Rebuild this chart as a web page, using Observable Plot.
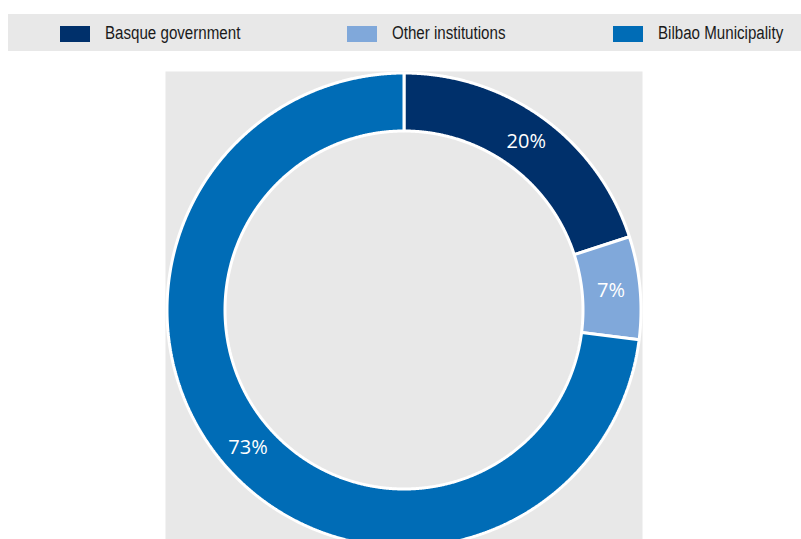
<!DOCTYPE html>
<html>
<head>
<meta charset="utf-8">
<script src="https://cdn.jsdelivr.net/npm/d3@7"></script>
<script src="https://cdn.jsdelivr.net/npm/@observablehq/plot@0.6"></script>
<style>
  html, body { margin: 0; padding: 0; background: #fff; overflow: hidden; width: 801px; height: 539px; }
  #legend { position: absolute; left: 8px; top: 14px; width: 793px; height: 37px; background: #e8e8e8; }
  .sw { position: absolute; top: 12px; width: 30px; height: 16px; }
  .lt { position: absolute; top: 0; height: 37px; line-height: 39px; font-family: "Liberation Sans", Arial, sans-serif; font-size: 18px; color: #1a1a1a; white-space: nowrap; transform: scaleX(0.84); transform-origin: 0 50%; }
  #chart { position: absolute; left: 0; top: 60px; }
</style>
</head>
<body>
<div id="legend"></div>
<div id="chart"></div>
<script>
const categories = ["Basque government", "Other institutions", "Bilbao Municipality"];
const shares = [20, 7, 73];
const labels = ["20%", "7%", "73%"];
const colors = ["#00306b", "#80a8da", "#006cb6"];

// Legend (HTML, above the SVG)
const legendX = [52, 339, 605];
const legend = document.getElementById("legend");
categories.forEach((c, i) => {
  const sw = document.createElement("div");
  sw.className = "sw";
  sw.style.left = legendX[i] + "px";
  sw.style.background = colors[i];
  legend.appendChild(sw);
  const t = document.createElement("div");
  t.className = "lt";
  t.style.left = (legendX[i] + 45) + "px";
  t.textContent = c;
  legend.appendChild(t);
});

const R_OUT = 237, R_IN = 179, R_LBL = 208;
const arcs = d3.pie().sort(null).value(d => d)(shares);

function slicePoints(a) {
  const pts = [];
  const n = Math.max(8, Math.ceil((a.endAngle - a.startAngle) / (Math.PI / 720)));
  for (let k = 0; k <= n; k++) {
    const t = a.startAngle + (a.endAngle - a.startAngle) * k / n;
    pts.push({x: R_OUT * Math.sin(t), y: R_OUT * Math.cos(t)});
  }
  for (let k = n; k >= 0; k--) {
    const t = a.startAngle + (a.endAngle - a.startAngle) * k / n;
    pts.push({x: R_IN * Math.sin(t), y: R_IN * Math.cos(t)});
  }
  return pts;
}

const labelData = arcs.map((a, i) => {
  const m = (a.startAngle + a.endAngle) / 2;
  return {x: R_LBL * Math.sin(m), y: R_LBL * Math.cos(m), text: labels[i]};
});

const marks = [Plot.frame({fill: "#e8e8e8", stroke: "none"})];
arcs.forEach((a, i) => {
  marks.push(Plot.line(slicePoints(a), {
    x: "x", y: "y", curve: "linear-closed",
    fill: colors[i], stroke: "white", strokeWidth: 3, strokeLinejoin: "miter"
  }));
});
marks.push(Plot.text(labelData, {
  x: "x", y: "y", text: "text", fill: "white",
  fontSize: 20, fontFamily: "Open Sans, Noto Sans, sans-serif"
}));

const chart = Plot.plot({
  width: 801,
  height: 488,
  marginLeft: 165,
  marginRight: 159,
  marginTop: 11,
  marginBottom: 0,
  x: {domain: [-238.5, 238.5], axis: null},
  y: {domain: [-238.5, 238.5], axis: null},
  style: {background: "transparent", overflow: "visible"},
  marks
});
document.getElementById("chart").appendChild(chart);
</script>
</body>
</html>
